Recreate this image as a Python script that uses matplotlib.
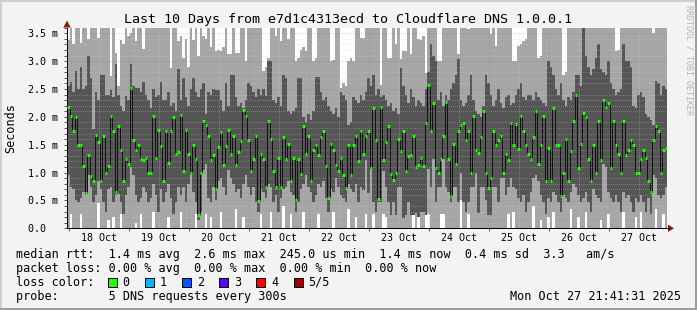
import numpy as np
import matplotlib.pyplot as plt
from matplotlib.patches import Rectangle, Polygon

plt.rcParams['font.family'] = ['DejaVu Sans Mono', 'DejaVu Sans']

title = "Last 10 Days from e7d1c4313ecd to Cloudflare DNS 1.0.0.1"
day_labels = ["18 Oct", "19 Oct", "20 Oct", "21 Oct", "22 Oct",
              "23 Oct", "24 Oct", "25 Oct", "26 Oct", "27 Oct"]
y_ticks = [0.0, 0.5, 1.0, 1.5, 2.0, 2.5, 3.0, 3.5]
y_tick_labels = ["0.0  ", "0.5 m", "1.0 m", "1.5 m", "2.0 m", "2.5 m", "3.0 m", "3.5 m"]
loss_labels = ["0", "1", "2", "3", "4", "5/5"]
loss_colors = ["#22ff00", "#00b8ff", "#0059ff", "#5e00ff", "#ff0000", "#a10000"]

legend_rows = [
    "median rtt:  1.4 ms avg  2.6 ms max  245.0 us min  1.4 ms now  0.4 ms sd  3.3   am/s",
    "packet loss: 0.00 % avg  0.00 % max  0.00 % min  0.00 % now",
    "loss color:",
    "probe:       5 DNS requests every 300s",
]
stamp = "Mon Oct 27 21:41:31 2025"

# one value per hour (240 hours), in ms; 5 pings sorted per hour
median_rtt = [
    2.17, 2.01, 1.74, 2.00, 1.50, 1.50, 1.11, 0.64, 1.31, 0.94,
    0.85, 1.68, 1.54, 0.85, 1.66, 1.00, 1.11, 2.01, 1.74, 0.66,
    1.83, 1.41, 0.84, 1.24, 1.16, 2.52, 1.59, 1.41, 1.50, 1.24,
    1.22, 1.27, 1.00, 1.00, 2.01, 1.26, 1.77, 1.47, 0.85, 1.75,
    1.18, 1.74, 2.00, 1.34, 1.37, 2.03, 1.03, 1.77, 1.34, 1.00,
    1.50, 1.24, 0.23, 1.00, 1.92, 1.85, 1.66, 1.22, 1.31,
    0.70, 1.46, 1.73, 1.14, 1.48, 1.77, 1.34, 1.66, 1.14, 1.37,
    1.57, 2.13, 2.01, 1.59, 1.02, 1.24, 1.66, 0.49, 1.33, 1.24,
    0.74, 1.92, 1.61, 1.03, 0.74, 1.27, 0.74, 1.64, 1.24, 1.52,
    0.85, 1.27, 0.50, 1.24, 0.97, 1.83, 1.33, 1.66, 0.85, 1.41,
    1.50, 1.31, 1.64, 1.75, 1.11, 0.55, 1.52, 1.41, 1.14, 1.02,
    1.27, 0.96, 0.73, 1.50, 0.96, 1.50, 1.66, 1.21, 1.75,
    1.34, 1.65, 1.74, 1.09, 2.15, 1.59, 0.52, 2.17, 1.22, 1.54,
    1.83, 0.97, 0.86, 1.00, 1.61, 1.39, 1.74, 1.02, 1.30, 1.31,
    1.66, 1.10, 1.14, 1.27, 1.12, 1.89, 2.58, 1.75, 2.24, 1.09,
    1.00, 1.24, 1.66, 2.26, 1.24, 0.58, 1.52, 1.16, 1.75, 1.85,
    1.89, 1.59, 1.75, 1.00, 2.01, 1.41, 1.36, 1.64, 2.10, 1.00,
    0.73, 0.91, 1.75, 1.50, 1.59, 1.66, 1.00, 1.33, 1.22,
    1.89, 1.49, 1.87, 1.43, 2.01, 1.75, 1.50, 1.34, 1.24, 1.64,
    2.10, 1.16, 1.49, 2.01, 0.84, 1.45, 0.85, 2.15, 1.50, 1.50,
    0.58, 1.00, 1.61, 0.84, 1.39, 1.93, 2.40, 1.09, 1.52, 2.07,
    2.00, 1.24, 0.85, 1.50, 1.00, 1.92, 1.22, 2.31, 2.17, 2.24,
    1.09, 1.92, 1.50, 1.34, 1.00, 1.92, 1.31, 1.41, 1.59, 1.50,
    1.00, 1.00, 1.24, 1.41, 1.27, 0.84, 0.66, 1.59, 1.83, 1.75,
    1.00, 1.41, 1.45,
]

ping_4th = [
    2.55, 2.62, 2.45, 2.82, 2.50, 2.90, 2.50, 2.55, 3.09, 2.70,
    1.79, 2.45, 2.30, 2.76, 2.76, 2.40, 2.40, 2.48, 2.35, 2.95,
    2.40, 2.20, 2.10, 2.38, 2.30, 2.95, 2.55, 2.52, 2.52, 2.45,
    2.62, 2.40, 2.30, 2.15, 2.50, 2.35, 2.40, 2.62, 2.30, 2.30,
    2.45, 2.20, 2.25, 2.10, 2.85, 2.30, 2.70, 2.35, 2.20, 2.50,
    2.70, 2.45, 2.35, 2.50, 2.60, 2.05, 2.45, 2.40, 2.50,
    2.49, 2.49, 2.30, 2.10, 2.60, 2.20, 2.76, 2.76, 2.35, 2.20,
    2.25, 2.15, 2.30, 2.60, 2.55, 2.45, 2.35, 2.50, 2.40, 2.50,
    2.38, 3.00, 3.00, 2.30, 2.25, 2.35, 2.20, 2.76, 2.70, 2.10,
    2.05, 2.10, 2.15, 2.70, 2.70, 2.00, 1.90, 2.05, 1.95, 2.10,
    2.72, 2.72, 2.45, 2.30, 2.35, 2.20, 2.10, 2.05, 2.15, 2.00,
    2.45, 2.40, 2.30, 1.85, 1.90, 2.35, 2.30, 2.25, 2.40,
    2.30, 2.45, 2.70, 2.55, 2.76, 2.40, 2.50, 2.35, 2.40, 2.30,
    2.20, 2.25, 2.10, 2.15, 2.05, 2.88, 2.55, 2.40, 2.25, 2.50,
    2.35, 2.20, 2.30, 2.25, 2.20, 2.50, 2.80, 3.30, 3.10, 3.00,
    2.30, 2.45, 2.20, 2.40, 2.30, 2.50, 2.60, 2.75, 3.03, 2.30,
    2.20, 2.25, 2.40, 2.76, 2.30, 2.10, 2.05, 2.00, 2.20, 2.76,
    2.60, 2.40, 2.20, 2.30, 2.50, 2.25, 2.15, 2.35, 2.40,
    2.22, 2.25, 2.40, 2.50, 2.60, 2.35, 2.30, 2.40, 2.40, 2.30,
    2.45, 2.35, 2.30, 2.25, 2.20, 3.00, 2.90, 2.76, 2.50, 2.40,
    2.60, 2.30, 2.20, 2.35, 2.30, 2.45, 2.76, 2.76, 2.55, 3.60,
    3.10, 2.90, 2.76, 2.85, 3.05, 3.30, 2.85, 2.80, 2.76, 3.00,
    2.60, 2.50, 2.40, 2.45, 2.50, 3.30, 3.00, 3.00, 2.90, 2.20,
    2.15, 2.40, 2.45, 2.35, 2.05, 2.00, 1.95, 1.85, 2.65, 2.60,
    2.40, 2.55, 2.50,
]

ping_max = [
    3.38, 3.70, 3.30, 3.70, 3.70, 3.33, 3.70, 3.70, 3.40, 3.70,
    3.70, 3.70, 3.42, 3.70, 3.70, 3.70, 3.70, 2.73, 3.70, 3.15,
    2.55, 3.38, 3.30, 3.70, 3.45, 3.50, 3.70, 3.36, 3.70, 3.70,
    3.21, 3.70, 3.70, 3.70, 3.70, 3.70, 3.70, 3.70, 3.70, 3.70,
    3.70, 2.88, 3.70, 3.70, 3.36, 3.45, 3.05, 3.40, 2.90, 3.70,
    3.38, 3.70, 3.09, 3.70, 3.45, 3.40, 3.70, 3.26, 3.70,
    3.18, 3.20, 3.18, 3.25, 3.70, 3.12, 3.12, 3.70, 3.15, 3.15,
    3.70, 3.70, 3.00, 3.70, 3.70, 3.70, 3.70, 3.70, 3.70, 2.82,
    2.90, 3.05, 3.70, 3.70, 3.45, 3.70, 3.36, 3.70, 3.70, 3.40,
    3.70, 3.70, 3.00, 3.05, 3.20, 3.25, 3.18, 3.70, 3.70, 3.00,
    3.05, 3.70, 3.70, 3.70, 3.70, 3.70, 3.00, 3.02, 3.70, 3.70,
    2.52, 2.60, 2.55, 3.00, 3.05, 3.00, 3.70, 3.70, 3.42,
    3.42, 3.70, 3.70, 3.70, 3.70, 3.70, 3.70, 2.58, 3.70, 3.70,
    3.06, 3.06, 3.70, 3.30, 3.70, 3.03, 3.18, 3.18, 3.70, 3.12,
    3.70, 3.70, 3.40, 3.38, 3.45, 2.79, 3.70, 3.70, 3.70, 3.70,
    3.00, 3.00, 3.70, 3.70, 3.70, 3.70, 3.70, 3.70, 3.12, 3.70,
    3.70, 3.70, 3.57, 3.70, 3.70, 3.70, 3.70, 3.70, 3.70, 3.70,
    3.70, 3.48, 3.70, 3.27, 3.70, 3.70, 3.70, 3.70, 3.70,
    3.70, 3.00, 3.00, 3.27, 3.30, 3.36, 3.40, 3.70, 3.70, 3.70,
    3.70, 3.06, 3.10, 3.70, 3.70, 3.70, 3.70, 3.70, 3.70, 3.70,
    3.70, 2.76, 2.80, 3.70, 3.70, 3.70, 3.70, 3.70, 3.70, 3.70,
    3.70, 3.70, 3.70, 3.70, 3.70, 3.70, 3.70, 3.70, 3.70, 3.70,
    3.70, 3.70, 3.18, 3.20, 3.70, 3.70, 3.70, 3.70, 3.70, 3.70,
    3.70, 3.70, 3.70, 3.70, 3.70, 3.70, 3.70, 3.50, 3.70, 3.70,
    3.70, 3.70, 3.70,
]

ping_2nd = [
    0.95, 0.75, 0.70, 0.50, 0.48, 0.55, 0.65, 0.60, 0.95, 0.75,
    0.48, 0.60, 0.85, 0.70, 0.48, 0.30, 0.70, 0.75, 0.48, 0.60,
    0.62, 0.48, 0.25, 0.60, 0.75, 1.10, 0.95, 0.60, 0.48, 0.55,
    0.75, 0.65, 0.48, 0.55, 0.80, 0.60, 0.30, 0.70, 0.48, 0.65,
    0.80, 0.55, 0.25, 0.48, 0.75, 0.60, 0.75, 0.48, 0.80, 0.95,
    0.65, 0.48, 0.15, 0.30, 1.05, 1.15, 0.55, 0.48, 0.75,
    0.50, 0.85, 0.90, 0.75, 0.60, 1.05, 0.90, 0.80, 0.65, 0.70,
    0.55, 0.80, 0.95, 0.75, 0.60, 0.75, 0.48, 0.30, 0.70, 0.65,
    0.55, 0.80, 0.75, 0.48, 0.60, 0.30, 0.55, 0.70, 0.75, 0.85,
    0.65, 0.60, 0.30, 0.48, 0.70, 0.80, 0.95, 0.75, 0.65, 0.48,
    0.60, 0.80, 0.75, 0.85, 0.55, 0.30, 0.70, 0.65, 0.90, 0.75,
    0.60, 0.55, 0.48, 0.80, 0.70, 0.65, 0.80, 0.48, 0.75,
    0.69, 1.23, 0.63, 1.23, 0.48, 0.30, 0.48, 0.48, 1.02, 0.75,
    0.48, 0.24, 0.48, 0.24, 0.75, 0.75, 0.18, 0.24, 0.48, 0.24,
    0.24, 0.27, 0.20, 0.30, 0.30, 0.24, 1.06, 0.75, 1.24, 0.48,
    0.75, 0.75, 1.24, 0.75, 0.66, 0.48, 0.75, 0.75, 0.48, 0.99,
    0.48, 0.30, 0.48, 0.75, 0.75, 0.99, 0.27, 0.75, 0.75, 0.50,
    0.24, 0.24, 0.75, 0.75, 0.48, 0.90, 0.90, 0.60, 0.75,
    0.90, 0.75, 0.70, 0.55, 0.48, 0.60, 0.30, 0.48, 0.65, 0.90,
    0.95, 0.85, 0.60, 0.48, 0.25, 0.55, 0.48, 0.65, 0.60, 0.48,
    0.30, 0.60, 0.55, 0.48, 0.65, 0.80, 0.75, 0.60, 0.48, 0.55,
    0.65, 0.48, 0.30, 0.70, 0.60, 0.55, 0.48, 1.15, 1.10, 0.65,
    0.55, 0.48, 0.60, 0.48, 0.30, 0.65, 0.55, 0.60, 0.48, 0.30,
    0.55, 0.48, 0.60, 0.48, 0.30, 0.55, 0.25, 0.95, 0.90, 0.60,
    0.55, 0.60, 0.75,
]

ping_min = [
    0.00, 0.25, 0.00, 0.00, 0.00, 0.25, 0.00, 0.00, 0.00, 0.00,
    0.00, 0.00, 0.45, 0.00, 0.00, 0.00, 0.15, 0.00, 0.20, 0.00,
    0.00, 0.25, 0.00, 0.00, 0.00, 0.00, 0.00, 0.10, 0.00, 0.25,
    0.00, 0.00, 0.00, 0.00, 0.30, 0.00, 0.00, 0.00, 0.00, 0.00,
    0.20, 0.00, 0.00, 0.00, 0.00, 0.30, 0.00, 0.00, 0.00, 0.00,
    0.00, 0.25, 0.00, 0.00, 0.00, 0.25, 0.00, 0.20, 0.00,
    0.00, 0.00, 0.30, 0.00, 0.00, 0.00, 0.00, 0.00, 0.35, 0.00,
    0.00, 0.20, 0.00, 0.00, 0.00, 0.00, 0.00, 0.00, 0.25, 0.00,
    0.00, 0.00, 0.30, 0.00, 0.00, 0.00, 0.00, 0.40, 0.00, 0.00,
    0.25, 0.00, 0.00, 0.00, 0.00, 0.30, 0.00, 0.00, 0.00, 0.00,
    0.00, 0.25, 0.00, 0.00, 0.00, 0.00, 0.00, 0.30, 0.00, 0.00,
    0.00, 0.00, 0.00, 0.35, 0.00, 0.00, 0.20, 0.00, 0.00,
    0.00, 0.25, 0.00, 0.00, 0.25, 0.00, 0.00, 0.00, 0.25, 0.20,
    0.00, 0.00, 0.00, 0.00, 0.00, 0.00, 0.00, 0.00, 0.00, 0.00,
    0.25, 0.00, 0.20, 0.00, 0.00, 0.25, 0.25, 0.00, 0.00, 0.00,
    0.00, 0.25, 0.25, 0.00, 0.00, 0.00, 0.00, 0.00, 0.00, 0.50,
    0.00, 0.00, 0.25, 0.00, 0.00, 0.00, 0.00, 0.00, 0.00, 0.00,
    0.00, 0.00, 0.00, 0.00, 0.00, 0.00, 0.00, 0.00, 0.25,
    0.00, 0.30, 0.00, 0.00, 0.00, 0.00, 0.00, 0.00, 0.00, 0.40,
    0.00, 0.00, 0.15, 0.00, 0.00, 0.20, 0.00, 0.30, 0.00, 0.00,
    0.00, 0.00, 0.00, 0.00, 0.35, 0.00, 0.00, 0.20, 0.00, 0.00,
    0.30, 0.00, 0.00, 0.00, 0.00, 0.00, 0.15, 0.00, 0.00, 0.25,
    0.00, 0.00, 0.00, 0.00, 0.00, 0.30, 0.00, 0.00, 0.00, 0.00,
    0.20, 0.00, 0.30, 0.00, 0.00, 0.00, 0.00, 0.00, 0.35, 0.00,
    0.00, 0.25, 0.00,
]

W, H = 697, 310
first_midnight = 0.92  # hours after graph start

med = np.array(median_rtt)
p4 = np.maximum(np.array(ping_4th), med)
p5 = np.maximum(np.array(ping_max), p4)
p2 = np.minimum(np.array(ping_2nd), med)
p1 = np.minimum(np.array(ping_min), p2)
edges = np.arange(len(med) + 1)

fig = plt.figure(figsize=(W / 100, H / 100), dpi=100, facecolor='#f3f3f3')

# plot area in pixels: x 67..667, y 27.7..228.3
left, right, top, bottom = 67, 667, 27.7, 228.3
ax = fig.add_axes([left / W, 1 - bottom / H, (right - left) / W, (bottom - top) / H])
ax.set_facecolor('white')

ax.stairs(p5, edges, baseline=p1, fill=True, color='#a6a6a6', lw=0, zorder=1)
ax.stairs(p4, edges, baseline=p2, fill=True, color='#555555', lw=0, zorder=1.5)

# dotted grid drawn over the smoke
grid_minor = dict(color='#d0d0d0', alpha=0.3, lw=0.72, ls=(0, (1, 1.5)),
                  antialiased=False, zorder=2)
grid_major = dict(color='#ff4040', alpha=0.28, lw=0.72, ls=(0, (1, 1.5)),
                  antialiased=False, zorder=2.1)
for v in np.arange(0.1, 3.6, 0.1):
    if abs(v / 0.5 - round(v / 0.5)) > 1e-6:
        ax.axhline(v, **grid_minor)
for v in y_ticks[1:]:
    ax.axhline(v, **grid_major)
midnights = first_midnight + 24 * np.arange(10)
noons = midnights + 12
for v in noons:
    ax.axvline(v, **grid_minor)
for v in midnights:
    ax.axvline(v, **grid_major)

# median line: thin black steps, green marker per hour
ax.stairs(med, edges, baseline=None, color='#111111', lw=0.7, zorder=3)
ax.hlines(med, edges[:-1], edges[1:], colors=loss_colors[0], lw=2.2, zorder=4)

ax.set_xlim(0, len(med))
ax.set_ylim(0, 3.6)
ax.set_yticks(y_ticks)
ax.set_yticklabels(y_tick_labels, fontsize=7.2)
ax.set_yticks(np.arange(0, 3.61, 0.1), minor=True)
ax.set_xticks(midnights)
ax.set_xticklabels([])
ax.set_xticks(noons, day_labels, minor=True, fontsize=7.2)
ax.tick_params(axis='y', which='both', length=2, width=0.7, color='#555555', pad=4.3)
ax.tick_params(axis='x', which='major', length=2, width=0.7, color='#555555')
ax.tick_params(axis='x', which='minor', length=0, pad=3.5)
for s in ['top', 'right']:
    ax.spines[s].set_visible(False)
for s in ['left', 'bottom']:
    ax.spines[s].set_color('black')
    ax.spines[s].set_linewidth(0.72)

# overlay in pixel coordinates for frame, title and legend
ov = fig.add_axes([0, 0, 1, 1], zorder=5)
ov.set_xlim(0, W)
ov.set_ylim(H, 0)
ov.axis('off')
ov.patch.set_alpha(0)

ov.plot([0.5, W - 0.5], [0.8, 0.8], color='#cfcfcf', lw=1.5)
ov.plot([0.8, 0.8], [0, H], color='#cfcfcf', lw=1.5)
ov.plot([0, W], [H - 0.8, H - 0.8], color='#9e9e9e', lw=1.5)
ov.plot([W - 0.8, W - 0.8], [0, H], color='#9e9e9e', lw=1.5)

ov.add_patch(Polygon([[63.3, 27.5], [70.7, 27.5], [67, 20.5]], closed=True,
                     color='#8b1a1a', lw=0))
ov.plot([667, 669], [bottom, bottom], color='black', lw=0.72)
ov.add_patch(Polygon([[668, 224.6], [668, 232.0], [674, 228.3]], closed=True,
                     color='#8b1a1a', lw=0))

ov.text(348.5, 19, title, fontsize=9.6, ha='center', va='center')
ov.text(11, 128, "Seconds", fontsize=8.5, rotation=90, ha='center', va='center')
ov.text(689, 5, "RRDTOOL / TOBI OETIKER", fontsize=6, rotation=270,
        ha='center', va='top', color='#b4b4b4')

rows_y = [254.3, 268.3, 282.2, 296.2]
for txt, y in zip(legend_rows, rows_y):
    ov.text(16, y, txt, fontsize=8.5, ha='left', va='center')
ov.text(681, rows_y[3], stamp, fontsize=8.5, ha='right', va='center')

for i, (lab, col) in enumerate(zip(loss_labels, loss_colors)):
    bx = 108 + 37.1 * i
    ov.add_patch(Rectangle((bx, rows_y[2] - 4.5), 9, 9, facecolor=col,
                           edgecolor='black', lw=0.7))
    ov.text(bx + 14.5, rows_y[2], lab, fontsize=8.5, ha='left', va='center')

fig.savefig('out.png', dpi=100, facecolor=fig.get_facecolor())
